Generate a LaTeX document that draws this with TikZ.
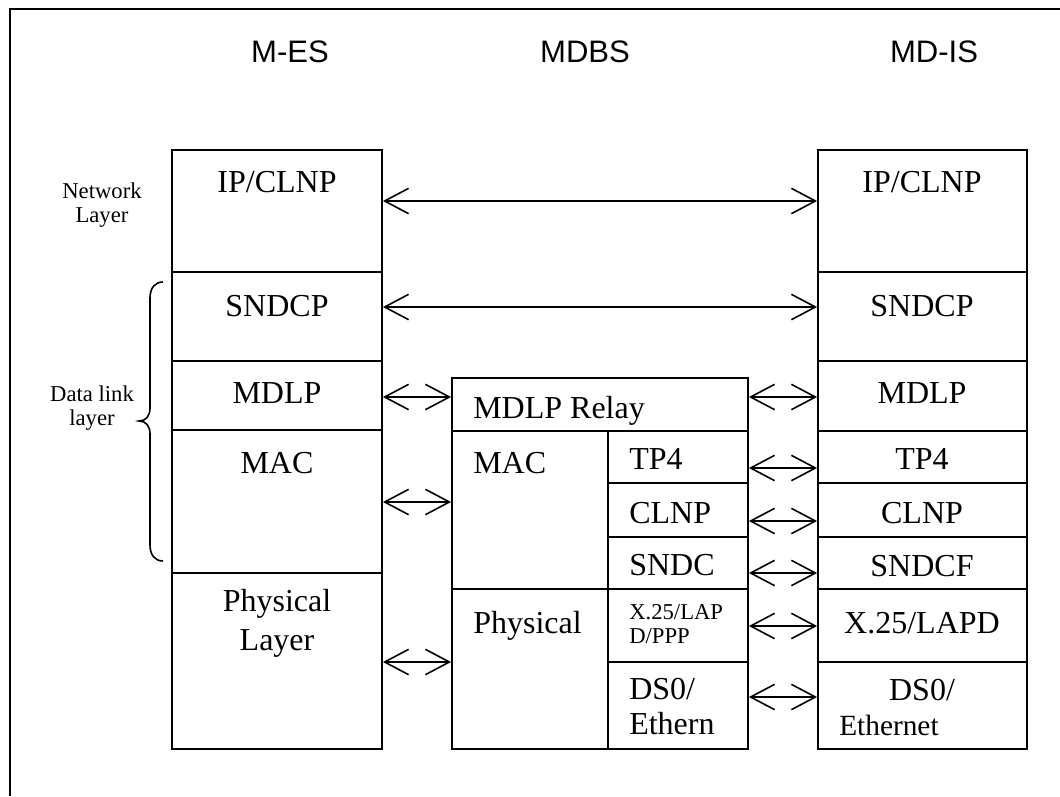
\documentclass[tikz,border=0pt]{standalone}
\usepackage{fontspec}
\setmainfont{Liberation Serif}
\newfontfamily\titlefont{Liberation Sans}
\usetikzlibrary{arrows.meta,fit}
\newcommand\cellbox[5]{\node[cell, fit={(#2,#3) (#4,#5)}] (#1) {};}
\begin{document}
\begin{tikzpicture}[x=0.75pt,y=-0.75pt,
  cell/.style={draw, line width=1.3pt, inner sep=0pt, rectangle},
  frameline/.style={line width=1.3pt},
  arr/.style={line width=1.2pt, {Straight Barb[length=18pt,width=19pt,line cap=butt]}-{Straight Barb[length=18pt,width=19pt,line cap=butt]}},
  big/.style={font=\fontsize{24}{28}\selectfont, inner sep=0pt},
  mid/.style={font=\fontsize{17}{20}\selectfont, inner sep=0pt},
  title/.style={font=\titlefont\fontsize{23.3}{28}\selectfont, inner sep=0pt},
  bracestyle/.style={line width=1.2pt}]
\useasboundingbox (0,0) rectangle (1060,796);
% frame
\draw[frameline] (10,796) -- (10,9) -- (1060,9);
% titles
\node[title, anchor=base] (tmes) at (290,62) {M-ES};
\node[title, anchor=base] (tmdbs) at (585,62) {MDBS};
\node[title, anchor=base] (tmdis) at (934,62) {MD-IS};
% left column
\cellbox{lip}{172}{150}{382}{272}
\cellbox{lsn}{172}{272}{382}{361}
\cellbox{lmd}{172}{361}{382}{430}
\cellbox{lmac}{172}{430}{382}{573}
\cellbox{lphy}{172}{573}{382}{749}
% middle
\cellbox{mrel}{452}{378}{748}{431}
\cellbox{mmac}{452}{431}{608}{589}
\cellbox{mphy}{452}{589}{608}{749}
\cellbox{mtp}{608}{431}{748}{483}
\cellbox{mcl}{608}{483}{748}{537}
\cellbox{msn}{608}{537}{748}{589}
\cellbox{mx}{608}{589}{748}{662}
\cellbox{mds}{608}{662}{748}{749}
% right column
\cellbox{rip}{818}{150}{1027}{272}
\cellbox{rsn}{818}{272}{1027}{361}
\cellbox{rmd}{818}{361}{1027}{431}
\cellbox{rtp}{818}{431}{1027}{483}
\cellbox{rcl}{818}{483}{1027}{537}
\cellbox{rsf}{818}{537}{1027}{589}
\cellbox{rx}{818}{589}{1027}{662}
\cellbox{rds}{818}{662}{1027}{749}
% texts left
\node[big, anchor=base] (tlip) at (277,192) {IP/CLNP};
\node[big, anchor=base] (tlsn) at (277,316) {SNDCP};
\node[big, anchor=base] (tlmd) at (277,403) {MDLP};
\node[big, anchor=base] (tlmac) at (277,473) {MAC};
\node[big, anchor=base] (tlphy1) at (277,611) {Physical};
\node[big, anchor=base] (tlphy2) at (277,650) {Layer};
% texts middle
\node[big, anchor=base west] (tmrel) at (473,418) {MDLP Relay};
\node[big, anchor=base west] (tmmac) at (473,473) {MAC};
\node[big, anchor=base west] (tmphy) at (473,633) {Physical};
\node[big, anchor=base west] (tmtp) at (629,469) {TP4};
\node[big, anchor=base west] (tmcl) at (629,523) {CLNP};
\node[big, anchor=base west] (tmsn) at (629,575) {SNDC};
\node[mid, anchor=base west] (tmx1) at (629,619) {X.25/LAP};
\node[mid, anchor=base west] (tmx2) at (629,643) {D/PPP};
\node[big, anchor=base west] (tmds1) at (629,699) {DS0/};
\node[big, anchor=base west] (tmds2) at (629,734) {Ethern};
% texts right
\node[big, anchor=base] (trip) at (922,192) {IP/CLNP};
\node[big, anchor=base] (trsn) at (922,316) {SNDCP};
\node[big, anchor=base] (trmd) at (922,403) {MDLP};
\node[big, anchor=base] (trtp) at (922,469) {TP4};
\node[big, anchor=base] (trcl) at (922,523) {CLNP};
\node[big, anchor=base] (trsf) at (922,576) {SNDCF};
\node[big, anchor=base] (trx) at (922,633) {X.25/LAPD};
\node[big, anchor=base] (trds1) at (922,700) {DS0/};
\node[font=\fontsize{22}{26}\selectfont, inner sep=0pt, anchor=base west] (trds2) at (839,735) {Ethernet};
% side labels
\node[mid, anchor=base] (nl1) at (102,198) {Network};
\node[mid, anchor=base] (nl2) at (102,222) {Layer};
\node[mid, anchor=base] (dl1) at (92,401) {Data link};
\node[mid, anchor=base] (dl2) at (92,425) {layer};
% brace
\draw[bracestyle] (163,282) .. controls (155,282) and (150,288) .. (150,298) -- (150,408) .. controls (150,416) and (146,421) .. (139,421) .. controls (146,421) and (150,426) .. (150,434) -- (150,545) .. controls (150,555) and (155,561) .. (163,561);
% arrow levels
\coordinate (y1) at (0,201);
\coordinate (y2) at (0,307);
\coordinate (y3) at (0,397);
\coordinate (y4) at (0,502);
\coordinate (y5) at (0,662);
\coordinate (y6) at (0,468);
\coordinate (y7) at (0,521);
\coordinate (y8) at (0,573);
\coordinate (y9) at (0,626);
\coordinate (y10) at (0,697);
\draw[arr] (lip.east |- y1) -- (rip.west |- y1);
\draw[arr] (lsn.east |- y2) -- (rsn.west |- y2);
\draw[arr] (lmd.east |- y3) -- (mrel.west |- y3);
\draw[arr] (mrel.east |- y3) -- (rmd.west |- y3);
\draw[arr] (lmac.east |- y4) -- (mmac.west |- y4);
\draw[arr] (lphy.east |- y5) -- (mphy.west |- y5);
\draw[arr] (mtp.east |- y6) -- (rtp.west |- y6);
\draw[arr] (mcl.east |- y7) -- (rcl.west |- y7);
\draw[arr] (msn.east |- y8) -- (rsf.west |- y8);
\draw[arr] (mx.east |- y9) -- (rx.west |- y9);
\draw[arr] (mds.east |- y10) -- (rds.west |- y10);
\end{tikzpicture}
\end{document}
